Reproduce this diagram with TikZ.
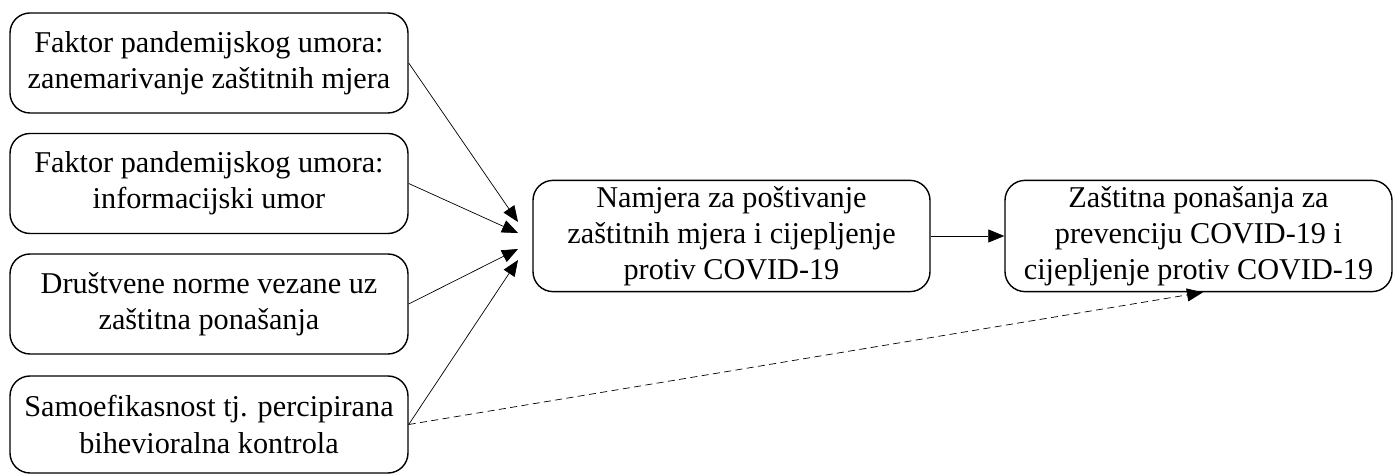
\documentclass[tikz,border=0pt]{standalone}
\usepackage{fontspec}
\setmainfont{Liberation Serif}
\usetikzlibrary{positioning, arrows.meta, calc}
\tikzstyle{arrow} = [thin,-{Triangle[length=3.2mm,width=2.6mm]}]
\tikzstyle{dasharrow} = [thin,dash pattern=on 4pt off 2.5pt,-{Triangle[length=3.2mm,width=2.6mm]}]
\tikzstyle{factor} = [rectangle, rounded corners=0.4cm, minimum width=7.96cm, minimum height=2cm, text centered, align=center, draw=black, thick, font=\fontsize{17.2}{20.5}\selectfont]
\tikzstyle{outcome} = [rectangle, rounded corners=0.4cm, minimum height=2.04cm, text centered, align=center, draw=black, thick, font=\fontsize{17.2}{20.5}\selectfont]

\begin{document}
\begin{tikzpicture}[node distance=2.41cm]
        \useasboundingbox (0,0) rectangle (27.9,9.5);
        \node (fatigue) [factor] at (4.18,8.24) {Faktor pandemijskog umora:\\zanemarivanje zaštitnih mjera};
        \node (info) [factor, below of=fatigue] {Faktor pandemijskog umora:\\informacijski umor};
        \node (norms) [factor, below of=info] {Društvene norme vezane uz\\zaštitna ponašanja};
        \node (efficacy) [factor, below of=norms, minimum height=1.94cm] {Samoefikasnost tj. percipirana\\bihevioralna kontrola};
        \node (intention) [outcome, minimum width=7.94cm] at (14.63,4.78) {Namjera za poštivanje\\zaštitnih mjera i cijepljenje\\protiv COVID-19};
        \node (behaviour) [outcome, minimum width=7.74cm] at (23.97,4.78) {Zaštitna ponašanja za\\prevenciju COVID-19 i\\cijepljenje protiv COVID-19};

        \coordinate (in1) at (10.36,5.06);
        \coordinate (in2) at (10.36,4.84);
        \coordinate (in3) at (10.36,4.52);
        \coordinate (in4) at (10.36,4.30);
        \coordinate (direct) at ($(behaviour.south)+(0.09,0)$);

        \draw [arrow] (fatigue.east) -- (in1);
        \draw [arrow] (info.east) -- (in2);
        \draw [arrow] (norms.east) -- (in3);
        \draw [arrow] (efficacy.east) -- (in4);
        \draw [arrow] (intention) -- (behaviour);
        \draw [dasharrow] (efficacy.east) -- (direct);

        \end{tikzpicture}
\end{document}
